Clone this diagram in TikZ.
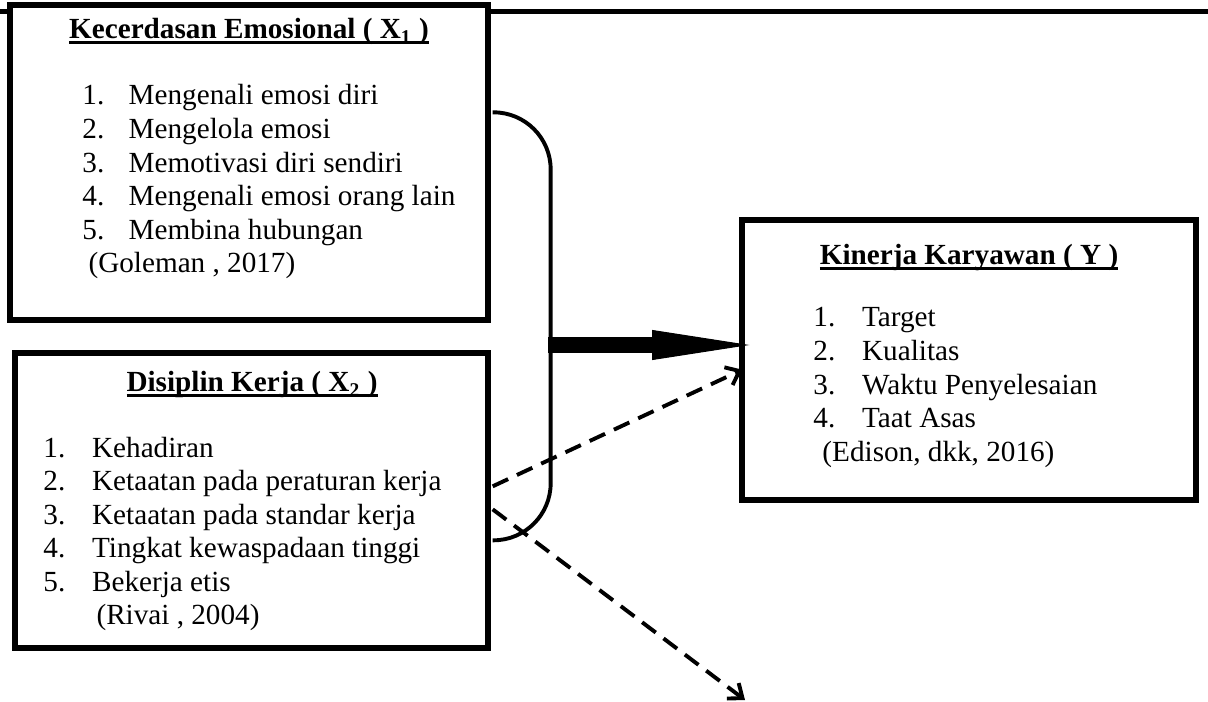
\documentclass[tikz,border=0pt]{standalone}
\usepackage{fontspec}
\setmainfont{Liberation Serif}
\usetikzlibrary{arrows.meta,positioning,calc,fit}
\tikzset{
  box/.style={draw, line width=2.2pt, fill=white, inner sep=0pt},
  txt/.style={font=\fontsize{12}{13.8}\selectfont, inner sep=0pt, anchor=base west},
  ttl/.style={font=\fontsize{12}{13.8}\selectfont\bfseries, inner sep=0pt, anchor=base},
  link/.style={line width=1.6pt, dash pattern=on 7pt off 4pt, -{Straight Barb[length=5pt,width=8pt]}},
  bigarrow/.style={line width=6.6pt, -{Triangle[length=40pt,width=12.3pt,line width=0.4pt]}},
  bracket/.style={line width=1.6pt, rounded corners=23.5pt}
}
\newcommand{\undl}[1]{\setbox0=\hbox{#1}\rlap{\rule[-2pt]{\wd0}{1pt}}\box0}

\begin{document}
\begin{tikzpicture}[x=0.411pt, y=-0.411pt]
\useasboundingbox (0,0) rectangle (1208,702);
\draw[line width=1.9pt] (0,11.5) -- (1208,11.5);
% independent variables
\node[box, fit={(10,5) (488,320)}] (kec) {};
\node[ttl] (kecTitle) at (249,39) {\undl{Kecerdasan Emosional ( X\textsubscript{1} )}};
\node[txt] (kecList) at (82,105) {\begin{tabular}[t]{@{}p{19pt}@{}l@{}}
1. & Mengenali emosi diri\\
2. & Mengelola emosi\\
3. & Memotivasi diri sendiri\\
4. & Mengenali emosi orang lain\\
5. & Membina hubungan\\
\multicolumn{2}{@{\hspace{2.5pt}}l@{}}{(Goleman , 2017)}
\end{tabular}};
\node[box, fit={(15,353) (488,648)}] (dis) {};
\node[ttl] (disTitle) at (252,392) {\undl{Disiplin Kerja ( X\textsubscript{2} )}};
\node[txt] (disList) at (43,457) {\begin{tabular}[t]{@{}p{20pt}@{}l@{}}
1. & Kehadiran\\
2. & Ketaatan pada peraturan kerja\\
3. & Ketaatan pada standar kerja\\
4. & Tingkat kewaspadaan tinggi\\
5. & Bekerja etis\\
\multicolumn{2}{@{\hspace{21.8pt}}l@{}}{(Rivai , 2004)}
\end{tabular}};
% dependent variable
\node[box, fit={(742,220) (1196,500)}] (kin) {};
\node[ttl] (kinTitle) at (969,265) {\undl{Kinerja Karyawan ( Y )}};
\node[txt] (kinList) at (813,327) {\begin{tabular}[t]{@{}p{20pt}@{}l@{}}
1. & Target\\
2. & Kualitas\\
3. & Waktu Penyelesaian\\
4. & Taat Asas\\
\multicolumn{2}{@{\hspace{3.7pt}}l@{}}{(Edison, dkk, 2016)}
\end{tabular}};
% connectors
\draw[bracket] ($(kec.north east)+(2,110)$) -- ++(58,0) -- ($(dis.north east)+(60,190)$) -- ($(dis.north east)+(2,190)$);
\coordinate (brk) at (548,345);
\draw[bigarrow] (brk) -- ($(brk -| kin.west)+(10,0)$);
\draw[link] ($(dis.north east)+(2,136)$) -- ($(kin.south west)+(3,-133)$);
\coordinate (out) at (745,700);
\draw[link] ($(dis.north east)+(2,159)$) -- (out);
\end{tikzpicture}
\end{document}
